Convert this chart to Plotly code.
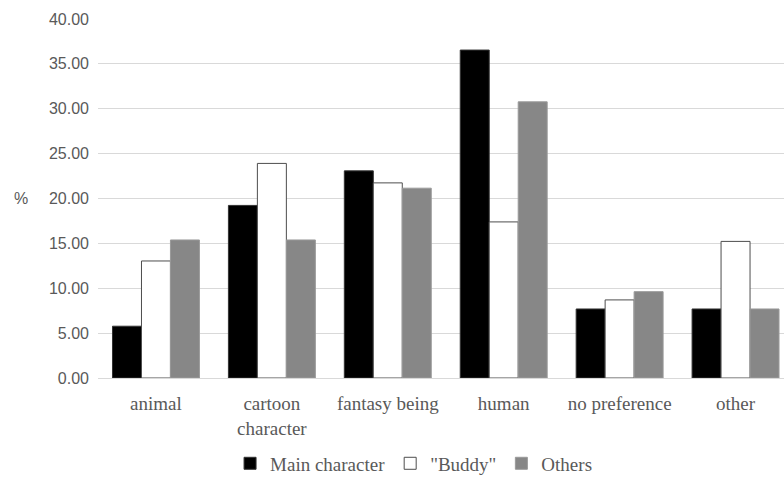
import plotly.graph_objects as go

categories = ["animal", "cartoon<br>character", "fantasy being", "human", "no preference", "other"]
main_character = [5.77, 19.23, 23.08, 36.54, 7.69, 7.69]
buddy = [13.04, 23.91, 21.74, 17.39, 8.70, 15.22]
others = [15.38, 15.38, 21.15, 30.77, 9.62, 7.69]
y_ticks = [0, 5, 10, 15, 20, 25, 30, 35, 40]

serif = "Liberation Serif"
sans = "Liberation Sans"
text_grey = "#595959"

fig = go.Figure()
fig.add_trace(go.Bar(
    x=categories, y=main_character, name="Main character",
    marker=dict(color="#000000", line=dict(color="#333333", width=1)),
))
fig.add_trace(go.Bar(
    x=categories, y=buddy, name='"Buddy"',
    marker=dict(color="#ffffff", line=dict(color="#4d4d4d", width=1)),
))
fig.add_trace(go.Bar(
    x=categories, y=others, name="Others",
    marker=dict(color="#878787", line=dict(color="#9a9a9a", width=1)),
))

fig.update_layout(
    width=784, height=484,
    margin=dict(l=97.5, r=0, t=18.5, b=105.5),
    paper_bgcolor="white", plot_bgcolor="white",
    font=dict(family=serif, color=text_grey),
    barmode="group", bargap=0.25, bargroupgap=0,
    showlegend=True,
    legend=dict(
        orientation="h", x=0.46, xanchor="center", y=-0.238, yanchor="middle",
        font=dict(family=serif, size=19, color=text_grey),
        itemwidth=30, tracegroupgap=0, borderwidth=0,
    ),
    xaxis=dict(
        range=[-0.5, 5.418],
        showgrid=False, showline=True, linecolor="#d9d9d9", linewidth=1,
        ticks="", tickfont=dict(family=serif, size=19, color=text_grey),
        ticklabelstandoff=8,
        fixedrange=True,
    ),
    yaxis=dict(
        range=[0, 40], tickvals=y_ticks, tickformat=".2f",
        showgrid=True, gridcolor="#d9d9d9", gridwidth=1,
        zeroline=False, showline=False, ticks="",
        tickfont=dict(family=sans, size=16, color=text_grey),
        ticklabelstandoff=8,
    ),
    annotations=[dict(
        text="%", xref="paper", yref="paper", x=-0.112, y=0.5,
        xanchor="center", yanchor="middle", showarrow=False,
        font=dict(family=sans, size=16, color=text_grey),
    )],
)

fig.write_html("out.html")
